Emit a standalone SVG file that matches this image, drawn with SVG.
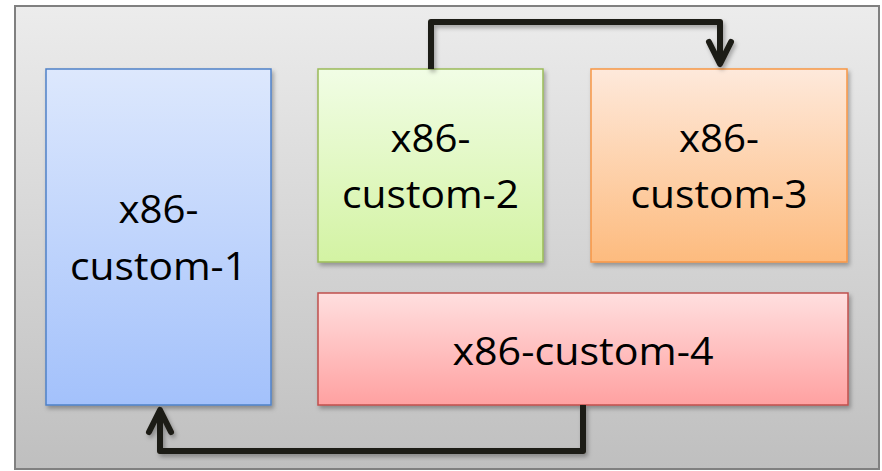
<svg xmlns="http://www.w3.org/2000/svg" width="882" height="471" viewBox="0 0 882 471">
  <defs>
    <linearGradient id="gPanel" x1="0" y1="0" x2="0" y2="1">
      <stop offset="0" stop-color="#ececec"/>
      <stop offset="1" stop-color="#bfbfbf"/>
    </linearGradient>
    <linearGradient id="gBlue" x1="0" y1="0" x2="0" y2="1">
      <stop offset="0" stop-color="#dde8fd"/>
      <stop offset="1" stop-color="#a3c1fb"/>
    </linearGradient>
    <linearGradient id="gGreen" x1="0" y1="0" x2="0" y2="1">
      <stop offset="0" stop-color="#f1fde5"/>
      <stop offset="1" stop-color="#d3f3a3"/>
    </linearGradient>
    <linearGradient id="gOrange" x1="0" y1="0" x2="0" y2="1">
      <stop offset="0" stop-color="#fee9db"/>
      <stop offset="1" stop-color="#fdbb7e"/>
    </linearGradient>
    <linearGradient id="gRed" x1="0" y1="0" x2="0" y2="1">
      <stop offset="0" stop-color="#ffdfdf"/>
      <stop offset="1" stop-color="#ffa1a1"/>
    </linearGradient>
    <filter id="shadow" x="-10%" y="-10%" width="130%" height="130%">
      <feDropShadow dx="2" dy="3" stdDeviation="2" flood-color="#000" flood-opacity="0.3"/>
    </filter>
    <marker id="chevron" markerUnits="userSpaceOnUse" viewBox="-30 -16 36 32" markerWidth="36" markerHeight="32" refX="0" refY="0" orient="auto" overflow="visible">
      <path d="M-22,-11 L0,0 L-22,11" fill="none" stroke="#1f1b13" stroke-width="6" stroke-linecap="round" stroke-linejoin="round"/>
    </marker>
    <style>
      .box { stroke-width: 1.5; filter: url(#shadow); }
      .label { font-family: "Open Sans", "Liberation Sans", sans-serif; font-size: 39px; fill: #000; text-anchor: middle; }
      .wire { fill: none; stroke: #1f1b13; stroke-width: 6; stroke-linejoin: round; filter: url(#shadow); }
    </style>
  </defs>

  <!-- enclosing panel -->
  <rect id="panel" x="15" y="6" width="864" height="463" fill="url(#gPanel)" stroke="#808080" stroke-width="2"/>

  <g id="node-custom-1">
    <rect class="box" x="46" y="69" width="225" height="336" fill="url(#gBlue)" stroke="#4f81c7"/>
    <text class="label" x="158.5" y="223" textLength="80" lengthAdjust="spacingAndGlyphs">x86-</text>
    <text class="label" x="158.5" y="280" textLength="177" lengthAdjust="spacingAndGlyphs">custom-1</text>
  </g>

  <g id="node-custom-2">
    <rect class="box" x="318" y="69" width="225" height="193" fill="url(#gGreen)" stroke="#9bbb59"/>
    <text class="label" x="430.5" y="152" textLength="80" lengthAdjust="spacingAndGlyphs">x86-</text>
    <text class="label" x="430.5" y="208" textLength="177" lengthAdjust="spacingAndGlyphs">custom-2</text>
  </g>

  <g id="node-custom-3">
    <rect class="box" x="591" y="69" width="256" height="193" fill="url(#gOrange)" stroke="#f79646"/>
    <text class="label" x="719" y="152" textLength="80" lengthAdjust="spacingAndGlyphs">x86-</text>
    <text class="label" x="719" y="208" textLength="177" lengthAdjust="spacingAndGlyphs">custom-3</text>
  </g>

  <g id="node-custom-4">
    <rect class="box" x="318" y="293" width="530" height="112" fill="url(#gRed)" stroke="#c0504d"/>
    <text class="label" x="583" y="365" textLength="261" lengthAdjust="spacingAndGlyphs">x86-custom-4</text>
  </g>

  <g id="connectors">
    <path class="wire" d="M431,69 V22 H720 V64" marker-end="url(#chevron)"/>
    <path class="wire" d="M847,165 H884"/>
    <path class="wire" d="M884,349 H854" marker-end="url(#chevron)"/>
    <path class="wire" d="M583,405 V451 H160 V410" marker-end="url(#chevron)"/>
  </g>
</svg>
